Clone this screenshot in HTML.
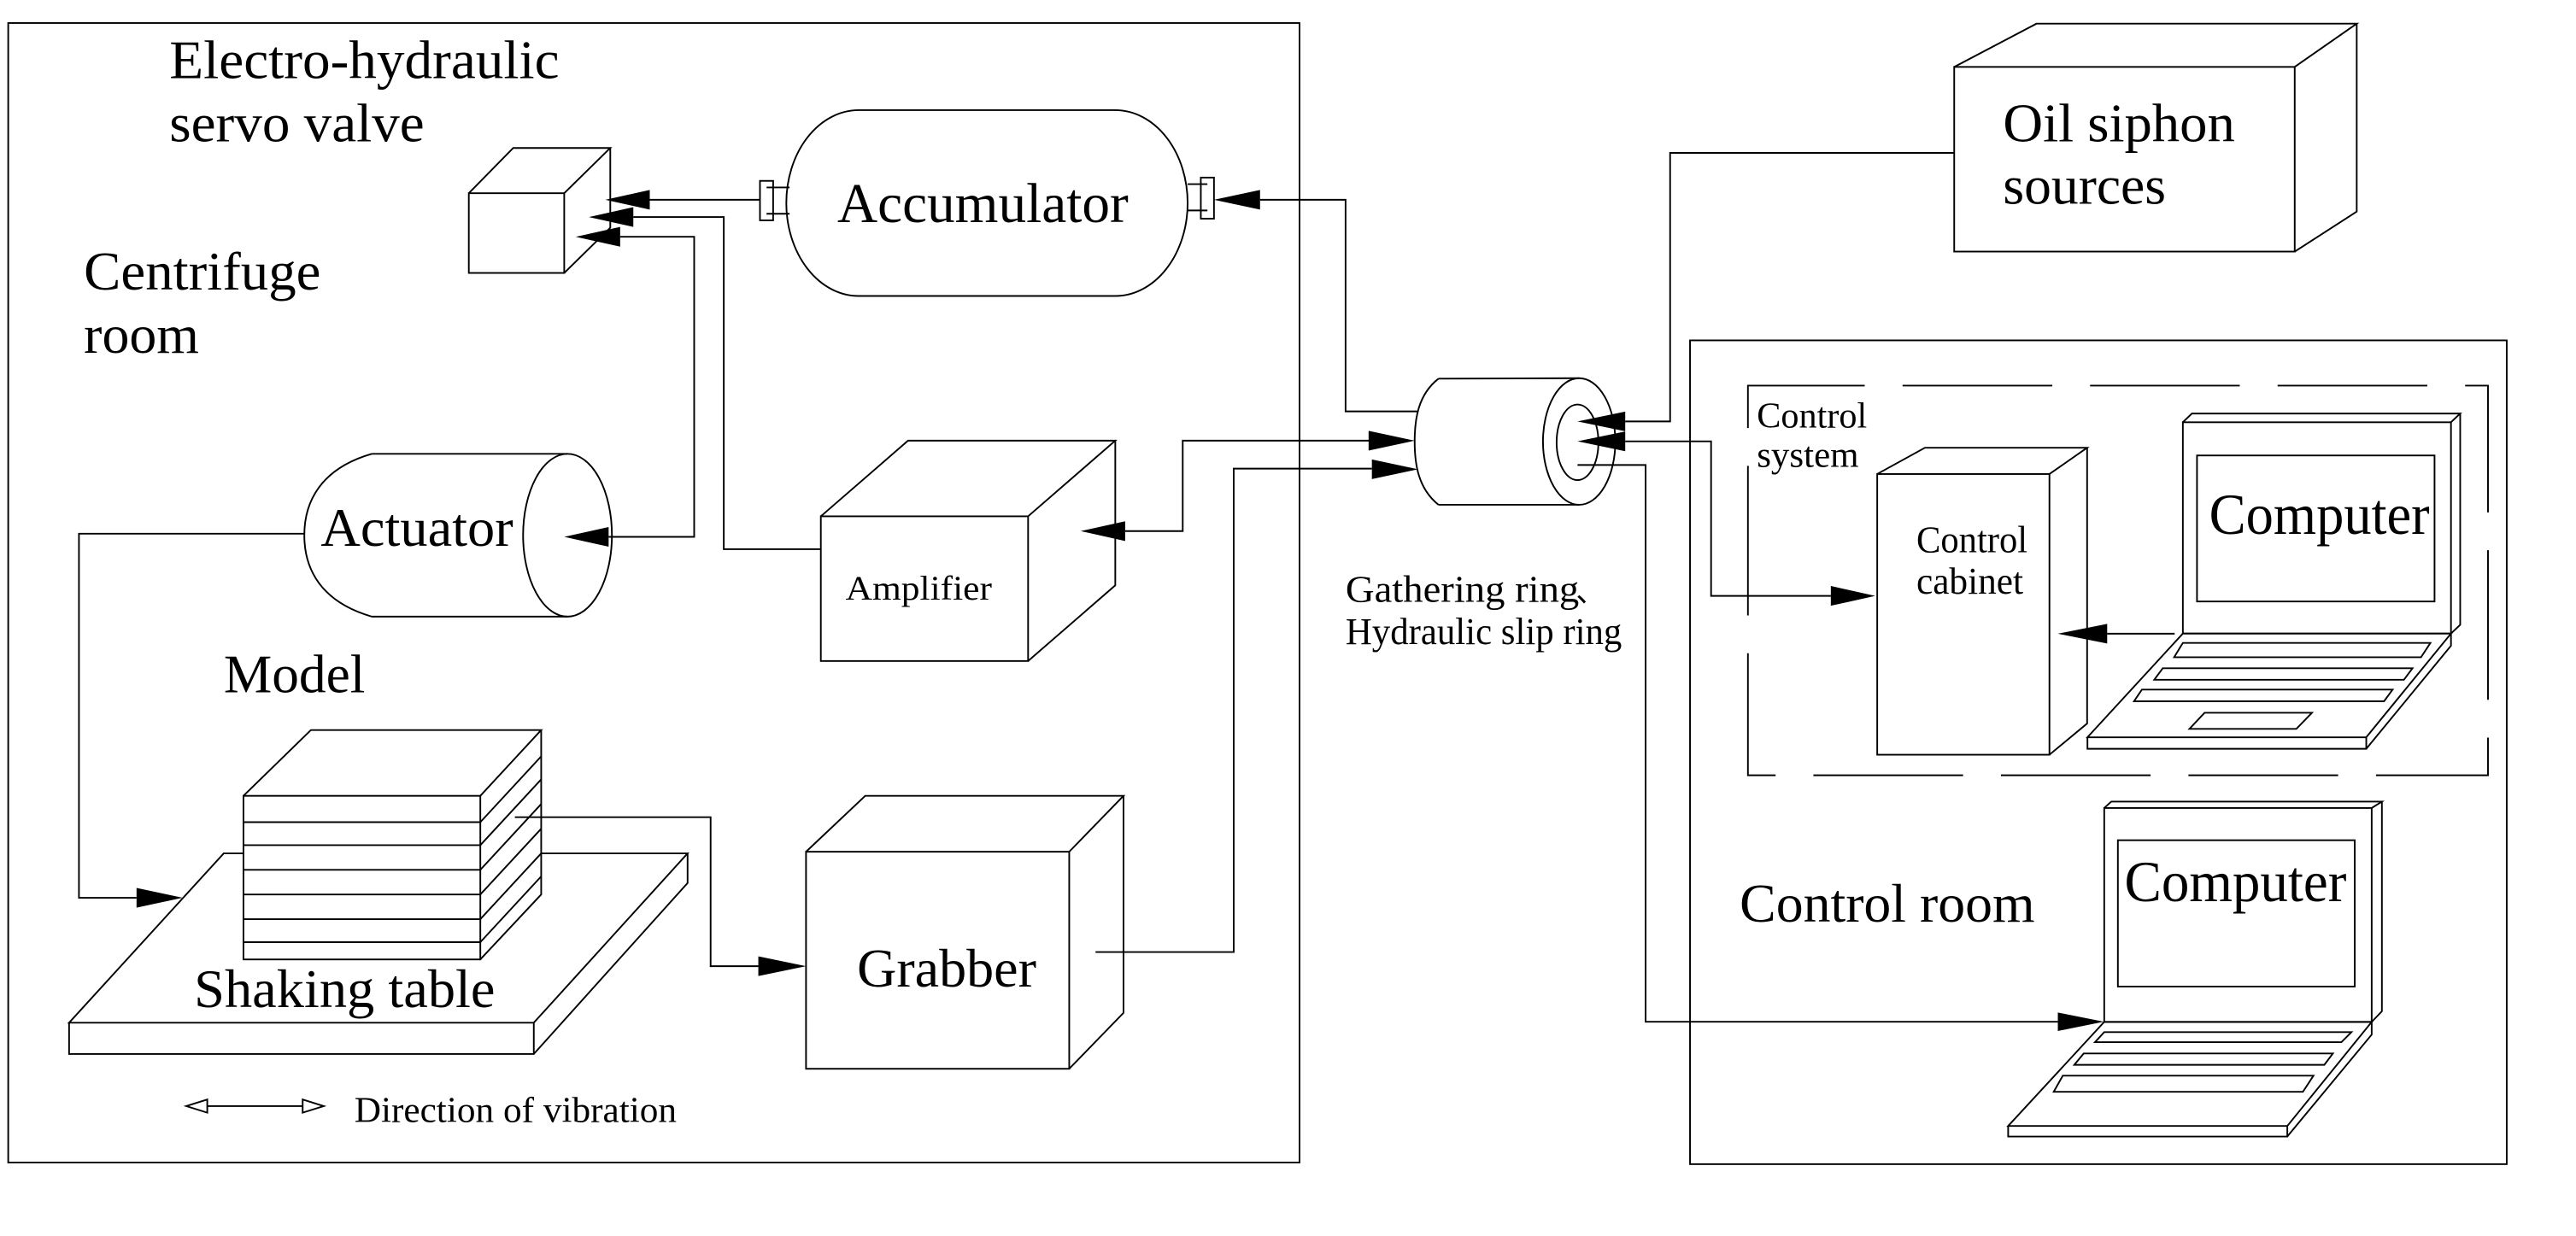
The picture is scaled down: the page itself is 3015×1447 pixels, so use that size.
<!DOCTYPE html>
<html><head><meta charset="utf-8"><style>
html,body{margin:0;padding:0;background:#fff;}
svg{display:block;}
text{font-family:"Liberation Serif",serif;fill:#000;}
</style></head><body>
<svg width="3015" height="1447" viewBox="0 0 1566 751.7" preserveAspectRatio="none" xmlns="http://www.w3.org/2000/svg">
<g fill="none" stroke="#000" stroke-width="1">
<rect x="5" y="14" width="785" height="693"/>
<rect x="1027.4" y="207" width="496.5" height="501"/>
<rect x="1062.6" y="234.5" width="449.9" height="237" stroke-dasharray="91 23" stroke-dashoffset="20"/>

<rect x="285" y="117.5" width="58" height="48.5"/>
<path d="M285,117.5 L312,90 L371,90 L343,117.5 M371,90 L371,138.5 L343,166"/>

<path d="M522,67 L678,67 A44,56.5 0 0 1 678,180 L522,180 A44,56.5 0 0 1 522,67 Z"/>
<rect x="462" y="110" width="8" height="24"/>
<path d="M466,114 L480,114 M466,130 L480,130"/>
<rect x="730" y="108" width="8" height="25"/>
<path d="M722,112 L734,112 M722,128 L734,128"/>

<path d="M226,276 L345,276 M226,375 L345,375 M226,276 C195,285 185,305 185,325.5 C185,346 195,366 226,375"/>
<ellipse cx="345" cy="325.5" rx="27" ry="49.5"/>

<rect x="499" y="314" width="126" height="88"/>
<path d="M499,314 L552,268 L678,268 L625,314 M678,268 L678,356 L625,402"/>

<rect x="148" y="484" width="144" height="99.5"/>
<path d="M148,500 L292,500 M148,514 L292,514 M148,529 L292,529 M148,544 L292,544 M148,559 L292,559 M148,573 L292,573"/>
<path d="M148,484 L189,444 L329,444 L292,484 M329,444 L329,544 L292,583.5"/>
<path d="M292,500 L329,460 M292,514 L329,474 M292,529 L329,489 M292,544 L329,504 M292,559 L329,519 M292,573 L329,533"/>

<path d="M148,519 L136,519 L42,622 L324.5,622 L418,519 L329,519 M418,519 L418,537 L324.5,641 L42,641 L42,622 M324.5,622 L324.5,641"/>

<rect x="490" y="518" width="160" height="132"/>
<path d="M490,518 L526,484 L683,484 L650,518 M683,484 L683,616 L650,650"/>

<path d="M874.5,230.3 L960,230 M874.5,307 L960,307 M874.5,230.3 C862,240 860,255 860,268.5 C860,282 862,297 874.5,307"/>
<ellipse cx="960" cy="268.5" rx="22" ry="38.5"/>
<ellipse cx="959" cy="269" rx="12.7" ry="23"/>

<rect x="1188" y="40.7" width="207" height="112.3"/>
<path d="M1188,40.7 L1238,14.4 L1432.7,14.4 L1395,40.7 M1432.7,14.4 L1432.7,128.7 L1395,153"/>

<rect x="1141.2" y="288.3" width="104.7" height="170.7"/>
<path d="M1141.2,288.3 L1170.2,272.3 L1268.8,272.3 L1245.9,288.3 M1268.8,272.3 L1268.8,440 L1245.9,459"/>

<rect x="1327" y="256.8" width="163" height="128.5"/>
<path d="M1327,256.8 L1332.5,251.5 L1495.6,251.5 L1490,256.8 M1495.6,251.5 L1495.6,380 L1490,385.3"/>
<rect x="1335.6" y="277" width="144.4" height="88.8"/>
<path d="M1327,385.3 L1490,385.3 L1438.5,448.4 L1269,448.4 Z M1269,448.4 L1269,455.4 L1438.5,455.4 L1438.5,448.4 M1490,385.3 L1490,392.7 L1438.5,455.4"/>
<path d="M1327,391 L1477.5,391 L1471.8,399.7 L1321.7,399.7 Z"/>
<path d="M1314.8,406.4 L1466.6,406.4 L1461.4,413.4 L1309.6,413.4 Z"/>
<path d="M1302.1,419.4 L1454.5,419.4 L1449.3,426.5 L1297.3,426.5 Z"/>
<path d="M1340.2,433.5 L1405.5,433.5 L1396,443.3 L1331,443.3 Z"/>

<rect x="1279.2" y="491.4" width="162.6" height="130.1"/>
<path d="M1279.2,491.4 L1283.5,487.5 L1448,487.5 L1441.8,491.4 M1448,487.5 L1448,615 L1441.8,621.5"/>
<rect x="1287.5" y="511" width="144" height="89"/>
<path d="M1279.2,621.5 L1441.8,621.5 L1390.5,684.8 L1220.8,684.8 Z M1220.8,684.8 L1220.8,691.2 L1390.5,691.2 L1390.5,684.8 M1441.8,621.5 L1441.8,629.2 L1390.5,691.2"/>
<path d="M1279.2,627.7 L1429.5,627.7 L1423.4,633.8 L1273.6,633.8 Z"/>
<path d="M1266.7,640.7 L1418.2,640.7 L1413,647.6 L1261,647.6 Z"/>
<path d="M1254,654.2 L1406.4,654.2 L1400,664 L1248.5,664 Z"/>

<path d="M462,121.5 L395,121.5"/>
<path d="M499,334 L440,334 L440,132 L385,132"/>
<path d="M370,326.5 L422,326.5 L422,144 L377,144"/>
<path d="M185,324.6 L48,324.6 L48,546 L83,546"/>
<path d="M313,497 L432,497 L432,587.6 L461,587.6"/>
<path d="M666,579 L750,579 L750,285 L834,285"/>
<path d="M684,323 L719,323 L719,268 L834,268"/>
<path d="M766,121.5 L818,121.5 L818,250.2 L861.5,250.2"/>
<path d="M988,256.3 L1015.3,256.3 L1015.3,93 L1188,93"/>
<path d="M988,268.4 L1040.2,268.4 L1040.2,362.4 L1113,362.4"/>
<path d="M959,282.8 L1000.4,282.8 L1000.4,621.4 L1251,621.4"/>
<path d="M1322,385.4 L1281,385.4"/>
<path d="M126,672.7 L184,672.7"/>
<path d="M113.2,672.7 L126,668.7 L126,676.7 Z M196.8,672.7 L184,668.7 L184,676.7 Z"/>
</g>

<g fill="#000">
<path d="M368,121.5 L395,115.5 L395,127.5 Z"/>
<path d="M358,132 L385,126 L385,138 Z"/>
<path d="M350,144 L377,138 L377,150 Z"/>
<path d="M343,326.5 L370,320.5 L370,332.5 Z"/>
<path d="M111,546 L83,540 L83,552 Z"/>
<path d="M490,587.6 L461,581.6 L461,593.6 Z"/>
<path d="M657,323 L684,317 L684,329 Z"/>
<path d="M860,268 L832,262 L832,274 Z"/>
<path d="M862,285.4 L834,279.4 L834,291.4 Z"/>
<path d="M738,121.5 L766,115.5 L766,127.5 Z"/>
<path d="M959,256.3 L988,250.3 L988,262.3 Z"/>
<path d="M959,268.4 L988,262.4 L988,274.4 Z"/>
<path d="M1140,362.4 L1113,356.4 L1113,368.4 Z"/>
<path d="M1251,385.4 L1281,379.4 L1281,391.4 Z"/>
<path d="M1279,621.4 L1251,615.8 L1251,627 Z"/>
</g>

<g font-size="33">
<text x="103" y="47.6" textLength="237" lengthAdjust="spacingAndGlyphs">Electro-hydraulic</text>
<text x="103" y="86" textLength="155" lengthAdjust="spacingAndGlyphs">servo valve</text>
<text x="51" y="176" textLength="144" lengthAdjust="spacingAndGlyphs">Centrifuge</text>
<text x="51" y="214.5" textLength="70" lengthAdjust="spacingAndGlyphs">room</text>
<text x="509" y="135" font-size="34" textLength="177" lengthAdjust="spacingAndGlyphs">Accumulator</text>
<text x="195" y="332" textLength="117" lengthAdjust="spacingAndGlyphs">Actuator</text>
<text x="136" y="421" textLength="86" lengthAdjust="spacingAndGlyphs">Model</text>
<text x="118" y="612.5" textLength="183" lengthAdjust="spacingAndGlyphs">Shaking table</text>
<text x="521" y="600" textLength="109" lengthAdjust="spacingAndGlyphs">Grabber</text>
<text x="1217.7" y="86" textLength="141" lengthAdjust="spacingAndGlyphs">Oil siphon</text>
<text x="1217.7" y="124" textLength="99" lengthAdjust="spacingAndGlyphs">sources</text>
<text x="1343" y="324.7" font-size="35" textLength="134" lengthAdjust="spacingAndGlyphs">Computer</text>
<text x="1291.5" y="548" font-size="35" textLength="135" lengthAdjust="spacingAndGlyphs">Computer</text>
<text x="1057.6" y="560.6" textLength="179.4" lengthAdjust="spacingAndGlyphs">Control room</text>
</g>
<g font-size="22">
<text x="514" y="364.6" font-size="21" textLength="89" lengthAdjust="spacingAndGlyphs">Amplifier</text>
<text x="215.4" y="682.4" textLength="196" lengthAdjust="spacingAndGlyphs">Direction of vibration</text>
<text x="818" y="366" font-size="23" textLength="142" lengthAdjust="spacingAndGlyphs">Gathering ring</text>
<text x="958" y="366" font-family="'Noto Sans CJK SC',sans-serif" font-size="18">、</text>
<text x="818" y="391.7" font-size="23" textLength="168" lengthAdjust="spacingAndGlyphs">Hydraulic slip ring</text>
<text x="1068" y="260" textLength="67" lengthAdjust="spacingAndGlyphs">Control</text>
<text x="1068" y="284" textLength="62" lengthAdjust="spacingAndGlyphs">system</text>
<text x="1165" y="335.9" font-size="23" textLength="67.6" lengthAdjust="spacingAndGlyphs">Control</text>
<text x="1165" y="361" font-size="23" textLength="65" lengthAdjust="spacingAndGlyphs">cabinet</text>
</g>
</svg>
</body></html>
